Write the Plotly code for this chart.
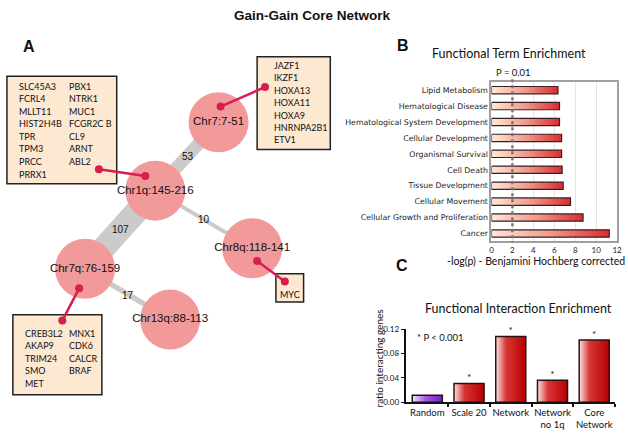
import plotly.graph_objects as go

W, H = 628, 435

# ---------------- data ----------------
node_names = ["Chr7:7-51", "Chr1q:145-216", "Chr8q:118-141", "Chr7q:76-159", "Chr13q:88-113"]
edge_sources = ["Chr1q:145-216", "Chr1q:145-216", "Chr1q:145-216", "Chr7q:76-159"]
edge_targets = ["Chr7:7-51", "Chr7q:76-159", "Chr8q:118-141", "Chr13q:88-113"]
edge_weights = [53, 107, 10, 17]

genes_chr1q_col1 = ["SLC45A3", "FCRL4", "MLLT11", "HIST2H4B", "TPR", "TPM3", "PRCC", "PRRX1"]
genes_chr1q_col2 = ["PBX1", "NTRK1", "MUC1", "FCGR2C B", "CL9", "ARNT", "ABL2"]
genes_chr7p = ["JAZF1", "IKZF1", "HOXA13", "HOXA11", "HOXA9", "HNRNPA2B1", "ETV1"]
genes_chr8q = ["MYC"]
genes_chr7q_col1 = ["CREB3L2", "AKAP9", "TRIM24", "SMO", "MET"]
genes_chr7q_col2 = ["MNX1", "CDK6", "CALCR", "BRAF"]

term_names = ["Lipid Metabolism", "Hematological Disease", "Hematological System Development",
              "Cellular Development", "Organismal Survival", "Cell Death", "Tissue Development",
              "Cellular Movement", "Cellular Growth and Proliferation", "Cancer"]
term_scores = [6.35, 6.5, 6.5, 6.7, 6.7, 6.75, 6.85, 7.55, 8.75, 11.25]
p_threshold_score = 2

interaction_groups = ["Random", "Scale 20", "Network", "Network<br>no 1q", "Core<br>Network"]
interaction_ratios = [0.0115, 0.031, 0.108, 0.036, 0.102]
interaction_significant = [False, True, True, True, True]

# ---------------- layout (pixel positions) ----------------
node_pos = {
    "Chr7:7-51": (219, 120),
    "Chr1q:145-216": (155, 190),
    "Chr8q:118-141": (253, 249),
    "Chr7q:76-159": (84, 270),
    "Chr13q:88-113": (170, 322),
}
edge_label_pos = [(188, 155), (120, 230), (204, 220), (127, 297)]

boxes = [
    dict(rect=(5, 73, 116, 183), node_pt=(145, 175), box_pt=(98, 168)),
    dict(rect=(258, 53, 332, 148), node_pt=(221, 104), box_pt=(266, 84)),
    dict(rect=(277, 275, 305, 304), node_pt=(258, 262), box_pt=(286, 283)),
    dict(rect=(11, 317, 101, 399), node_pt=(78, 290), box_pt=(61, 323)),
]
gene_columns = [
    (genes_chr1q_col1, 15, 83, 12.86),
    (genes_chr1q_col2, 66, 83, 12.86),
    (genes_chr7p, 273, 62, 12.67),
    (genes_chr7q_col1, 21, 336, 12.75),
    (genes_chr7q_col2, 66, 336, 12.75),
]

NET_FONT = "Liberation Sans, Arial, sans-serif"
SANS = "Lato, Liberation Sans, sans-serif"

fig = go.Figure()

# edges
for s, t, w in zip(edge_sources, edge_targets, edge_weights):
    (x0, y0), (x1, y1) = node_pos[s], node_pos[t]
    fig.add_trace(go.Scatter(x=[x0, x1], y=[y0, y1], mode="lines",
                             line=dict(color="#cbcbcb", width=2 + 0.2 * w),
                             hoverinfo="skip", showlegend=False, xaxis="x", yaxis="y"))

# nodes
fig.add_trace(go.Scatter(
    x=[node_pos[n][0] for n in node_names], y=[node_pos[n][1] for n in node_names],
    mode="markers+text", text=node_names, textposition="middle center",
    textfont=dict(family=NET_FONT, size=11.5, color="#111"),
    marker=dict(size=60, color="#f29a9a", line=dict(width=0)),
    showlegend=False, xaxis="x", yaxis="y"))

# gene links
for b in boxes:
    (x0, y0), (x1, y1) = b["node_pt"], b["box_pt"]
    fig.add_trace(go.Scatter(x=[x0, x1], y=[y0, y1], mode="lines+markers",
                             line=dict(color="#d81e4e", width=2.5),
                             marker=dict(size=8, color="#d81e4e"),
                             hoverinfo="skip", showlegend=False, xaxis="x", yaxis="y"))

shapes = []
annotations = []
for b in boxes:
    x0, y0, x1, y1 = b["rect"]
    shapes.append(dict(type="rect", xref="x", yref="y", x0=x0, y0=y0, x1=x1, y1=y1,
                       fillcolor="#fde8d2", line=dict(color="#222", width=1.5), layer="below"))

for genes, gx, gy, step in gene_columns:
    for i, g in enumerate(genes):
        annotations.append(dict(xref="x", yref="y", x=gx, y=gy + i * step, text=g,
                                showarrow=False, xanchor="left", yanchor="middle",
                                font=dict(family=SANS, size=9, color="#111")))
annotations.append(dict(xref="x", yref="y", x=291, y=296, text=genes_chr8q[0], showarrow=False,
                        font=dict(family=SANS, size=9, color="#111")))

for (lx, ly), w in zip(edge_label_pos, edge_weights):
    annotations.append(dict(xref="x", yref="y", x=lx, y=ly, text=str(w), showarrow=False,
                            font=dict(family=NET_FONT, size=10, color="#111")))

# ---------------- panel B ----------------
bh = 0.23
for i, v in enumerate(term_scores):
    fig.add_trace(go.Scatter(
        x=[0, v, v, 0, 0], y=[i - bh, i - bh, i + bh, i + bh, i - bh],
        mode="lines", fill="toself",
        fillgradient=dict(type="horizontal", colorscale=[[0, "#fde9dc"], [0.5, "#f09a8a"], [1, "#dc2a2e"]]),
        line=dict(color="#3a2020", width=1.2),
        name=term_names[i], showlegend=False, xaxis="x2", yaxis="y2"))

shapes.append(dict(type="line", xref="x2", yref="y", x0=p_threshold_score, x1=p_threshold_score,
                   y0=76, y1=243, line=dict(color="#777", width=2.5, dash="dot")))

# ---------------- panel C ----------------
cw = 0.36
red_scale = [[0, "#fbe3e3"], [0.35, "#d83434"], [1, "#b80000"]]
purple_scale = [[0, "#f3e6fc"], [0.45, "#a455e6"], [1, "#7020c8"]]
for i, v in enumerate(interaction_ratios):
    fig.add_trace(go.Scatter(
        x=[i - cw, i + cw, i + cw, i - cw, i - cw], y=[0, 0, v, v, 0],
        mode="lines", fill="toself",
        fillgradient=dict(type="horizontal", colorscale=red_scale if i > 0 else purple_scale),
        line=dict(color="#2a1010", width=1.5),
        showlegend=False, xaxis="x3", yaxis="y3"))

sig_x = [i for i, s in enumerate(interaction_significant) if s]
sig_y = [interaction_ratios[i] for i in sig_x]
fig.add_trace(go.Scatter(x=sig_x, y=sig_y, mode="text", text=["*"] * len(sig_x),
                         textposition="top center", textfont=dict(family=SANS, size=10, color="#111"),
                         cliponaxis=False,
                         showlegend=False, xaxis="x3", yaxis="y3", hoverinfo="skip"))

# ---------------- text ----------------
def txt(x, y, s, size, bold=False, family=SANS, **kw):
    d = dict(xref="x", yref="y", x=x, y=y, text=f"<b>{s}</b>" if bold else s, showarrow=False,
             font=dict(family=family, size=size, color="#111"))
    d.update(kw)
    annotations.append(d)

txt(314, 11, "Gain-Gain Core Network", 13.5, bold=True, family=NET_FONT)
txt(27, 42, "A", 16, bold=True, family=NET_FONT)
txt(406, 41, "B", 16, bold=True, family=NET_FONT)
txt(405, 267, "C", 16, bold=True, family=NET_FONT)
txt(513, 50, "Functional Term Enrichment", 12.5)
txt(517, 69, "P = 0.01", 9.5)
txt(540, 262, "-log(p) - Benjamini Hochberg corrected", 10.5)
txt(522, 311, "Functional Interaction Enrichment", 12.5)
txt(443, 340, "* P < 0.001", 9.5)
txt(381, 362, "ratio interacting genes", 10, textangle=-90)

def px(x):
    return x / W

def py(y):
    return 1 - y / H

fig.update_layout(
    width=W, height=H, autosize=False,
    margin=dict(l=0, r=0, t=0, b=0),
    paper_bgcolor="white", plot_bgcolor="white",
    shapes=shapes, annotations=annotations,
    xaxis=dict(domain=[0, 1], range=[0, W], visible=False, fixedrange=True),
    yaxis=dict(domain=[0, 1], range=[H, 0], visible=False, fixedrange=True),
    xaxis2=dict(domain=[px(495), px(622)], anchor="y2", range=[0, 12],
                tickvals=list(range(0, 13, 2)), tickfont=dict(family=SANS, size=8, color="#222"),
                showgrid=True, gridcolor="#e4e4e4", gridwidth=1, zeroline=False,
                showline=True, mirror=True, linecolor="#a0a0a0", linewidth=2, ticks="",
                ticklabelstandoff=0),
    yaxis2=dict(domain=[py(242), py(79)], anchor="x2", range=[9.5, -0.5],
                tickvals=list(range(len(term_names))), ticktext=term_names,
                tickfont=dict(family="DejaVu Sans, sans-serif", size=7.8, color="#222"),
                showgrid=False, zeroline=False, showline=True, mirror=True,
                linecolor="#a0a0a0", linewidth=2, ticks=""),
    xaxis3=dict(domain=[px(409), px(620)], anchor="y3", range=[-0.5, 4.5],
                tickvals=list(range(len(interaction_groups))), ticktext=interaction_groups,
                tickfont=dict(family=SANS, size=9.5, color="#111"), ticks="",
                minor=dict(tickvals=[0.5, 1.5, 2.5, 3.5, 4.5], ticks="outside", ticklen=3,
                           tickcolor="#111", tickwidth=1.5, showgrid=False),
                showgrid=False, zeroline=False, showline=True, linecolor="#111", linewidth=1.5),
    yaxis3=dict(domain=[py(406.7), py(331.7)], anchor="x3", range=[0, 0.12],
                tickvals=[0, 0.04, 0.08, 0.12], ticktext=["0.00", "0.04", "0.08", "0.12"],
                tickfont=dict(family=SANS, size=8, color="#111"), ticks="outside", ticklen=4,
                tickcolor="#111", showgrid=False, zeroline=False, showline=True,
                linecolor="#111", linewidth=1.5),
)

fig.write_html("out.html", config={"displayModeBar": False},
               post_script="document.body.style.margin='0';document.body.style.overflow='hidden';")
